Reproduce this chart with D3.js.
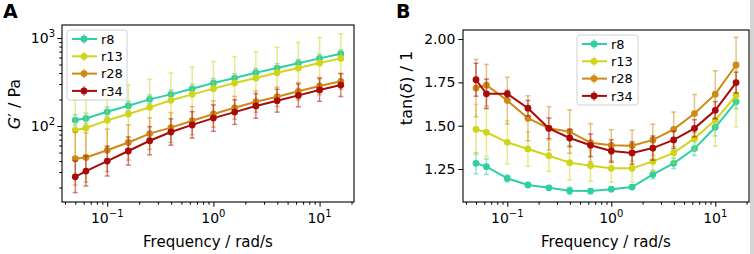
<!DOCTYPE html>
<html>
<head>
    <script src="https://cdnjs.cloudflare.com/ajax/libs/d3/7.8.5/d3.min.js"></script>
    <style>
        body { margin: 0; background: #fff; }
        text { font-family: "DejaVu Sans", sans-serif; }
    </style>
</head>
<body>
<svg id="chart"></svg>
<script>
    const width = 754, height = 254;

    // shared frequency grid (rad/s)
    const freq = [0.05, 0.063, 0.1, 0.158, 0.251, 0.398, 0.631, 1, 1.585, 2.512, 3.981, 6.31, 10, 15.85];
    const seriesNames = ["r8", "r13", "r28", "r34"];
    const colors = ["#2fcfa3", "#cfd61a", "#cd8a14", "#a90b0b"];

    // panel A: storage modulus G' (Pa), errors in decades
    const gA_r8 = [117, 122, 145, 170, 201, 229, 265, 308, 351, 403, 456, 516, 587, 663];
    const gA_r13 = [90, 95, 116, 137, 163, 196, 229, 266, 308, 351, 403, 456, 520, 587];
    const gA_r28 = [42.5, 44, 53, 65, 82, 96, 115, 137, 161, 189, 215, 248, 285, 322];
    const gA_r34 = [26.5, 30.8, 40, 52, 68, 85.5, 103, 123, 144, 169, 194, 223, 257, 292];
    const eA_r8 = [0.06, 0.06, 0.055, 0.055, 0.05, 0.05, 0.05, 0.05, 0.05, 0.05, 0.05, 0.045, 0.045, 0.045];
    const eA_r13 = [0.34, 0.32, 0.3, 0.33, 0.32, 0.31, 0.31, 0.31, 0.3, 0.3, 0.29, 0.29, 0.29, 0.28];
    const eA_r28 = [0.3, 0.28, 0.24, 0.2, 0.18, 0.17, 0.16, 0.15, 0.13, 0.12, 0.11, 0.1, 0.1, 0.09];
    const eA_r34 = [0.18, 0.17, 0.17, 0.16, 0.16, 0.15, 0.15, 0.15, 0.14, 0.14, 0.13, 0.13, 0.13, 0.13];

    // panel B: tan(delta), symmetric errors
    const tB_r8 = [1.283, 1.264, 1.196, 1.158, 1.142, 1.125, 1.123, 1.134, 1.146, 1.219, 1.283, 1.368, 1.491, 1.638];
    const tB_r13 = [1.479, 1.462, 1.404, 1.366, 1.327, 1.287, 1.269, 1.254, 1.254, 1.294, 1.343, 1.427, 1.532, 1.674];
    const tB_r28 = [1.717, 1.734, 1.645, 1.543, 1.485, 1.466, 1.402, 1.387, 1.385, 1.418, 1.479, 1.570, 1.682, 1.850];
    const tB_r34 = [1.765, 1.684, 1.684, 1.601, 1.485, 1.429, 1.387, 1.354, 1.343, 1.371, 1.418, 1.485, 1.589, 1.749];
    const eB_r8 = [0.06, 0.045, 0.02, 0.01, 0.01, 0.02, 0.015, 0.01, 0.012, 0.025, 0.03, 0.04, 0.05, 0.04];
    const eB_r13 = [0.145, 0.14, 0.125, 0.1, 0.09, 0.1, 0.09, 0.08, 0.08, 0.06, 0.06, 0.07, 0.15, 0.18];
    const eB_r28 = [0.165, 0.12, 0.135, 0.13, 0.125, 0.125, 0.11, 0.09, 0.09, 0.09, 0.1, 0.11, 0.135, 0.16];
    const eB_r34 = [0.095, 0.085, 0.02, 0.045, 0.06, 0.05, 0.065, 0.065, 0.065, 0.07, 0.05, 0.05, 0.05, 0.06];

    const svg = d3.select("#chart").attr("width", width).attr("height", height);

    svg.append("rect").attr("x", 750).attr("y", 0).attr("width", 4).attr("height", height).attr("fill", "#d4d4d4");

    function superscriptLabel(g, x, y, base, exp, anchor) {
        const t = g.append("text").attr("x", x).attr("y", y)
            .attr("text-anchor", anchor).attr("font-size", 14).attr("fill", "#000");
        t.append("tspan").text(base);
        t.append("tspan").attr("dy", -6.5).attr("font-size", 10).text(exp);
    }

    function drawPanel(cfg) {
        const { x, y, values, errs, logErr, id } = cfg;
        const [x0, x1] = x.range();
        const [y0, y1] = y.range();
        const g = svg.append("g");

        g.append("clipPath").attr("id", "clip" + id)
            .append("rect").attr("x", x0).attr("y", y1).attr("width", x1 - x0).attr("height", y0 - y1);

        const plot = g.append("g").attr("clip-path", `url(#clip${id})`);
        const line = d3.line().x(d => x(d.f)).y(d => y(d.v));

        values.forEach((vals, s) => {
            const pts = vals.map((v, i) => {
                const e = errs[s][i];
                const lo = logErr ? v / Math.pow(10, e) : v - e;
                const hi = logErr ? v * Math.pow(10, e) : v + e;
                return { f: freq[i], v, lo, hi };
            });
            const bars = plot.append("g").attr("stroke", colors[s]).attr("stroke-opacity", 0.5).attr("stroke-width", 1.5);
            bars.selectAll(".bar").data(pts).join("line")
                .attr("x1", d => x(d.f)).attr("x2", d => x(d.f))
                .attr("y1", d => y(d.lo)).attr("y2", d => y(d.hi));
            bars.selectAll(".capH").data(pts).join("line")
                .attr("x1", d => x(d.f) - 2.5).attr("x2", d => x(d.f) + 2.5)
                .attr("y1", d => y(d.hi)).attr("y2", d => y(d.hi));
            bars.selectAll(".capL").data(pts).join("line")
                .attr("x1", d => x(d.f) - 2.5).attr("x2", d => x(d.f) + 2.5)
                .attr("y1", d => y(d.lo)).attr("y2", d => y(d.lo));

            plot.append("path").datum(pts).attr("d", line)
                .attr("fill", "none").attr("stroke", colors[s]).attr("stroke-width", 2);
            plot.append("g").selectAll("circle").data(pts).join("circle")
                .attr("cx", d => x(d.f)).attr("cy", d => y(d.v)).attr("r", 3.4)
                .attr("fill", colors[s]);
        });

        // x axis: major + minor ticks
        const minorX = [];
        for (let dec = -2; dec <= 1; dec++) {
            for (let m = 2; m <= 9; m++) {
                const v = m * Math.pow(10, dec);
                if (v >= x.domain()[0] && v <= x.domain()[1]) minorX.push(v);
            }
        }
        g.append("g").attr("transform", `translate(0,${y0})`)
            .call(d3.axisBottom(x).tickValues(minorX).tickSize(2.7).tickFormat(""))
            .call(a => a.select(".domain").remove());
        g.append("g").attr("transform", `translate(0,${y0})`)
            .call(d3.axisBottom(x).tickValues([0.1, 1, 10]).tickSize(4.7).tickFormat(""))
            .call(a => a.select(".domain").remove());
        superscriptLabel(g, x(0.1), y0 + 21, "10", "\u22121", "middle");
        superscriptLabel(g, x(1), y0 + 21, "10", "0", "middle");
        superscriptLabel(g, x(10), y0 + 21, "10", "1", "middle");

        g.append("text").attr("x", (x0 + x1) / 2).attr("y", y0 + 45)
            .attr("text-anchor", "middle").attr("font-size", 15).text("Frequency / rad/s");

        g.append("rect").attr("x", x0).attr("y", y1).attr("width", x1 - x0).attr("height", y0 - y1)
            .attr("fill", "none").attr("stroke", "#000").attr("stroke-width", 1.1);

        g.selectAll(".tick line").attr("stroke", "#000").attr("stroke-width", 1);
        return g;
    }

    // ---------- panel A ----------
    const xA = d3.scaleLog().domain([0.0375, 21.1]).range([62, 354]);
    const yA = d3.scaleLog().domain([13.7, 1406]).range([202, 25]);
    const gA = drawPanel({
        id: "A", x: xA, y: yA, logErr: true,
        values: [gA_r8, gA_r13, gA_r28, gA_r34],
        errs: [eA_r8, eA_r13, eA_r28, eA_r34]
    });
    const minorYA = [];
    for (let dec = 1; dec <= 3; dec++) {
        for (let m = 2; m <= 9; m++) {
            const v = m * Math.pow(10, dec);
            if (v >= yA.domain()[0] && v <= yA.domain()[1]) minorYA.push(v);
        }
    }
    gA.append("g").attr("transform", "translate(62,0)")
        .call(d3.axisLeft(yA).tickValues(minorYA).tickSize(2.7).tickFormat(""))
        .call(a => a.select(".domain").remove());
    gA.append("g").attr("transform", "translate(62,0)")
        .call(d3.axisLeft(yA).tickValues([100, 1000]).tickSize(4.7).tickFormat(""))
        .call(a => a.select(".domain").remove());
    gA.selectAll(".tick line").attr("stroke", "#000");
    superscriptLabel(gA, 55, yA(100) + 5, "10", "2", "end");
    superscriptLabel(gA, 55, yA(1000) + 5, "10", "3", "end");
    const ylA = gA.append("text").attr("transform", "translate(20,104) rotate(-90)")
        .attr("text-anchor", "middle").attr("font-size", 16);
    ylA.append("tspan").attr("font-style", "italic").text("G");
    ylA.append("tspan").text("\u2032 / Pa");

    // ---------- panel B ----------
    const xB = d3.scaleLog().domain([0.0375, 21.1]).range([463, 749]);
    const yB = d3.scaleLinear().domain([1.06, 2.052]).range([202, 30]);
    const gB = drawPanel({
        id: "B", x: xB, y: yB, logErr: false,
        values: [tB_r8, tB_r13, tB_r28, tB_r34],
        errs: [eB_r8, eB_r13, eB_r28, eB_r34]
    });
    gB.append("g").attr("transform", "translate(463,0)")
        .call(d3.axisLeft(yB).tickValues([1.25, 1.5, 1.75, 2.0]).tickSize(4.7).tickPadding(3).tickFormat(d3.format(".2f")))
        .call(a => a.select(".domain").remove())
        .call(a => a.selectAll("text").attr("font-size", 14).attr("fill", "#000")
            .attr("font-family", "DejaVu Sans, sans-serif"))
        .call(a => a.selectAll("line").attr("stroke", "#000"));
    const ylB = gB.append("text").attr("transform", "translate(412,88) rotate(-90)")
        .attr("text-anchor", "middle").attr("font-size", 16);
    ylB.append("tspan").text("tan(");
    ylB.append("tspan").attr("font-style", "italic").text("\u03b4");
    ylB.append("tspan").text(") / 1");

    // ---------- legends ----------
    function legend(lx, ly, w) {
        const g = svg.append("g").attr("transform", `translate(${lx},${ly})`);
        g.append("rect").attr("width", w).attr("height", 70).attr("rx", 2.5)
            .attr("fill", "#fff").attr("fill-opacity", 0.8).attr("stroke", "#d0d0d0");
        seriesNames.forEach((name, i) => {
            const yy = 9 + i * 17.3;
            const row = g.append("g").attr("transform", `translate(0,${yy})`);
            row.append("line").attr("x1", 17).attr("x2", 17).attr("y1", -5).attr("y2", 5)
                .attr("stroke", colors[i]).attr("stroke-opacity", 0.5).attr("stroke-width", 1.5);
            row.append("line").attr("x1", 5).attr("x2", 30).attr("y1", 0).attr("y2", 0)
                .attr("stroke", colors[i]).attr("stroke-width", 2);
            row.append("circle").attr("cx", 17).attr("cy", 0).attr("r", 3.4).attr("fill", colors[i]);
            row.append("text").attr("x", 34).attr("y", 4.6).attr("font-size", 13).text(name);
        });
    }
    legend(67, 30, 60);
    legend(577, 35, 61);

    // panel letters
    svg.append("text").attr("x", 3).attr("y", 18).attr("font-size", 19).attr("font-weight", "bold").text("A");
    svg.append("text").attr("x", 396).attr("y", 18).attr("font-size", 19).attr("font-weight", "bold").text("B");
</script>
</body>
</html>
